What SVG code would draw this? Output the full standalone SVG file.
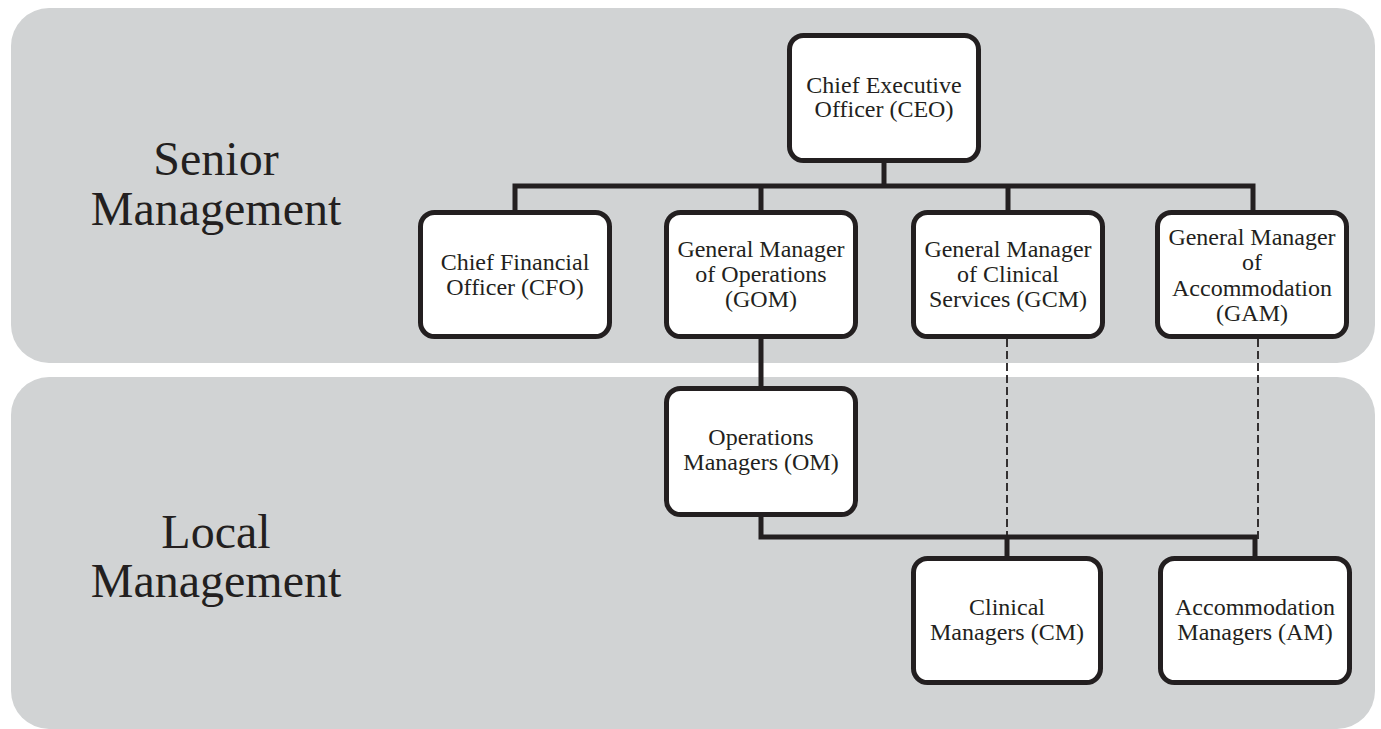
<svg xmlns="http://www.w3.org/2000/svg" width="1381" height="729" viewBox="0 0 1381 729">
  <style>
    .band { fill: #d1d3d4; }
    .box { fill: #ffffff; stroke: #231f20; stroke-width: 5; }
    .lbl { font-family: "Liberation Serif", "Times New Roman", serif; font-size: 24px; fill: #231f20; text-anchor: middle; }
    .tier { font-family: "Liberation Serif", "Times New Roman", serif; font-size: 48px; fill: #231f20; text-anchor: middle; }
    .link { fill: none; stroke: #231f20; stroke-width: 5; stroke-linejoin: miter; }
    .dotted { fill: none; stroke: #231f20; stroke-width: 1.8; stroke-dasharray: 8 4; }
  </style>

  <!-- management tiers -->
  <g id="tiers">
    <rect class="band" x="11" y="8" width="1364" height="355" rx="38" ry="38"/>
    <rect class="band" x="11" y="377" width="1364" height="352" rx="38" ry="38"/>
    <text class="tier" x="216" y="175">Senior</text>
    <text class="tier" x="216" y="225">Management</text>
    <text class="tier" x="216" y="548">Local</text>
    <text class="tier" x="216" y="597">Management</text>
  </g>

  <!-- reporting lines -->
  <g id="connectors">
    <path class="link" d="M884 163 V186"/>
    <path class="link" d="M515 210 V186 H1253 V210"/>
    <path class="link" d="M761 186 V210"/>
    <path class="link" d="M1008 186 V210"/>
    <path class="link" d="M761 339 V386"/>
    <path class="link" d="M761 517 V537 H1255 V556"/>
    <path class="link" d="M1007 537 V556"/>
    <path class="dotted" d="M1007 339 V537"/>
    <path class="dotted" d="M1258 339 V542"/>
  </g>

  <g id="ceo">
    <rect class="box" x="789.5" y="35.5" width="189" height="125" rx="14"/>
    <text class="lbl" x="884" y="93">Chief Executive</text>
    <text class="lbl" x="884" y="117">Officer (CEO)</text>
  </g>

  <g id="cfo">
    <rect class="box" x="420.5" y="212.5" width="189" height="124" rx="14"/>
    <text class="lbl" x="515" y="270">Chief Financial</text>
    <text class="lbl" x="515" y="295">Officer (CFO)</text>
  </g>

  <g id="gom">
    <rect class="box" x="666.5" y="212.5" width="189" height="124" rx="14"/>
    <text class="lbl" x="761" y="257">General Manager</text>
    <text class="lbl" x="761" y="282">of Operations</text>
    <text class="lbl" x="761" y="307">(GOM)</text>
  </g>

  <g id="gcm">
    <rect class="box" x="913.5" y="212.5" width="189" height="124" rx="14"/>
    <text class="lbl" x="1008" y="257">General Manager</text>
    <text class="lbl" x="1008" y="282">of Clinical</text>
    <text class="lbl" x="1008" y="307">Services (GCM)</text>
  </g>

  <g id="gam">
    <rect class="box" x="1157.5" y="212.5" width="189" height="124" rx="14"/>
    <text class="lbl" x="1252" y="245">General Manager</text>
    <text class="lbl" x="1252" y="270">of</text>
    <text class="lbl" x="1252" y="296">Accommodation</text>
    <text class="lbl" x="1252" y="321">(GAM)</text>
  </g>

  <g id="om">
    <rect class="box" x="666.5" y="388.5" width="189" height="126" rx="14"/>
    <text class="lbl" x="761" y="445">Operations</text>
    <text class="lbl" x="761" y="470">Managers (OM)</text>
  </g>

  <g id="cm">
    <rect class="box" x="913.5" y="558.5" width="187" height="124" rx="14"/>
    <text class="lbl" x="1007" y="615">Clinical</text>
    <text class="lbl" x="1007" y="640">Managers (CM)</text>
  </g>

  <g id="am">
    <rect class="box" x="1160.5" y="558.5" width="189" height="124" rx="14"/>
    <text class="lbl" x="1255" y="615">Accommodation</text>
    <text class="lbl" x="1255" y="640">Managers (AM)</text>
  </g>
</svg>
